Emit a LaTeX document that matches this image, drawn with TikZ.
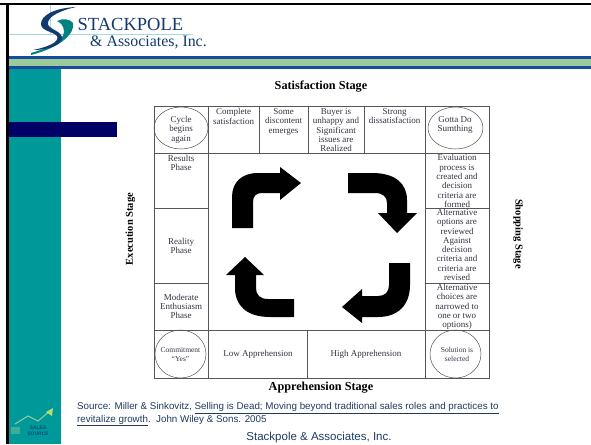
\documentclass[tikz,border=0pt]{standalone}
\usepackage{fontspec}
\setmainfont{Liberation Serif}
\setsansfont{Liberation Sans}
\usetikzlibrary{shapes.geometric}
\definecolor{tealbar}{HTML}{009999}
\definecolor{greenbar}{HTML}{99CC99}
\definecolor{bluebar}{HTML}{1A4A9C}
\definecolor{navybar}{HTML}{000066}
\definecolor{logonavy}{HTML}{123A6E}
\definecolor{gridc}{HTML}{555555}
\definecolor{inkc}{HTML}{333344}
\definecolor{sourcec}{HTML}{1F3A5F}
\tikzset{
  cell/.style={align=center,font=\fontsize{9}{9.3}\selectfont,text=inkc,inner sep=0pt},
  small/.style={align=center,font=\fontsize{7.5}{8}\selectfont,text=inkc,inner sep=0pt},
  stage/.style={font=\fontsize{12.2}{13}\bfseries\selectfont,text=black,inner sep=0pt},
  sidestage/.style={font=\fontsize{10.5}{12}\bfseries\selectfont,text=black,inner sep=0pt},
  ring/.style={draw=gridc,ellipse,line width=.5pt,minimum width=#1,inner sep=0pt},
  bigarrow/.style={fill=black,draw=none},
  rule/.style={draw=gridc,line width=.7pt},
  srcline/.style={anchor=base west,inner sep=0pt,font=\fontsize{9.8}{12}\sffamily\selectfont,text=sourcec},
}
\begin{document}
\begin{tikzpicture}[x=1pt,y=-1pt]
\useasboundingbox (0,0) rectangle (591,444);
\fill[white] (0,0) rectangle (591,444);
% slide furniture
\fill[tealbar] (9,67) rectangle (61,444);
\fill[greenbar] (7,58) rectangle (591,66);
\fill[bluebar] (7,56.5) rectangle (591,58.8);
\fill[bluebar] (7,66) rectangle (591,68.5);
\fill[navybar] (9,122) rectangle (117,137);
\fill[black] (0,3.5) rectangle (591,5.5);
\fill[black] (6,3.5) rectangle (9,444);
% logo
\draw[tealbar!35,line width=.5pt] (50,5) -- (50,34) (9,34) -- (193,34);
\fill[tealbar!85!black] (57,21) .. controls (63,18) and (70,19) .. (73,23) .. controls (75,33) and (62,47) .. (31,55) -- (31,53) .. controls (48,48) and (63,42) .. (64,32) .. controls (64,26) and (61,23) .. (57,21) -- cycle;
\fill[logonavy] (76,7) .. controls (55,8) and (41,15) .. (41,24) .. controls (41,31) and (52,31) .. (57,36) .. controls (60,42) and (48,47) .. (33,50) .. controls (50,50) and (63,44) .. (62,37) .. controls (60,30) and (47,29) .. (48,23) .. controls (48,16) and (62,10) .. (76,7) -- cycle;
\node[anchor=base west,inner sep=0pt,font=\fontsize{18.5}{18}\selectfont,text=logonavy] (brand) at (77.5,31) {STACKPOLE};
\node[anchor=base west,inner sep=0pt,font=\fontsize{15.9}{16}\selectfont,text=logonavy] (brand2) at (90,46.5) {\&\ Associates, Inc.};
% grid
\draw[rule] (154,106) rectangle (489,378);
\draw[rule] (154,153) -- (489,153) (154,330) -- (489,330);
\draw[rule] (208,106) -- (208,378) (425.5,106) -- (425.5,378);
\draw[rule] (259,106) -- (259,153) (308,106) -- (308,153) (364,106) -- (364,153) (307.5,330) -- (307.5,378);
\draw[rule] (154,208) -- (208,208) (154,283) -- (208,283);
\draw[rule] (425.5,208) -- (489,208) (425.5,283) -- (489,283);
% rings
\node[ring=54pt,minimum height=42pt] (cycle) at (181,128) {};
\node[ring=55pt,minimum height=42pt] (gotta) at (455.5,128) {};
\node[ring=51pt,minimum height=48pt] (commit) at (180.5,354) {};
\node[ring=51pt,minimum height=48pt] (solution) at (455.5,354) {};
% cell texts
\node[cell] (tcycle) at (181,129.5) {Cycle\\[.3pt]begins\\[.3pt]again};
\node[cell] (tgotta) at (455,125) {Gotta Do\\[.3pt]Sumthing};
\node[small] (tcommit) at (180.5,354.5) {Commitment\\[.5pt]``Yes''};
\node[small] (tsol) at (457,354.5) {Solution is\\[.5pt]selected};
\node[cell,anchor=north] (c1) at (233.5,108.5) {Complete\\satisfaction};
\node[cell,anchor=north] (c2) at (283.5,108.5) {Some\\discontent\\emerges};
\node[cell,anchor=north] (c3) at (336,108.5) {Buyer is\\unhappy and\\Significant\\issues are\\Realized};
\node[cell,anchor=north] (c4) at (394.5,108.5) {Strong\\dissatisfaction};
\node[cell,anchor=north] (r1) at (181,155) {Results\\Phase};
\node[cell] (r2) at (181,246) {Reality\\Phase};
\node[cell] (r3) at (181,306.5) {Moderate\\Enthusiasm\\Phase};
\node[cell,anchor=north] (e1) at (457,154.5) {Evaluation\\process is\\created and\\decision\\criteria are\\formed};
\node[cell,anchor=north] (e2) at (457,209) {Alternative\\options are\\reviewed\\Against\\decision\\criteria and\\criteria are\\revised};
\node[cell,anchor=north] (e3) at (457,284) {Alternative\\choices are\\narrowed to\\one or two\\options)};
\node[cell] (low) at (258,354) {Low Apprehension};
\node[cell] (high) at (366,354) {High Apprehension};
% stage titles
\node[stage] (sat) at (321,87) {Satisfaction Stage};
\node[stage] (app) at (321,388) {Apprehension Stage};
\node[sidestage,rotate=90] (exe) at (130.5,229) {Execution Stage};
\node[sidestage,rotate=-90] (shop) at (518,234) {Shopping Stage};
% arrows
\path[bigarrow] (232,228) -- (232,197) .. controls (232,182) and (242,173) .. (258,173) -- (280,173) -- (280,167) -- (301,183) -- (280,200) -- (280,193) -- (262,193) .. controls (256,193) and (253,196) .. (253,202) -- (253,228) -- cycle;
\path[bigarrow] (348,173) -- (372,173) .. controls (396,173) and (407,184) .. (407,200) -- (407,213) -- (417,213) -- (397,233) -- (378,213) -- (387,213) -- (387,203) .. controls (387,197) and (383,193) .. (375,193) -- (348,193) -- cycle;
\path[bigarrow] (410,263) -- (410,285) .. controls (410,305) and (398,317) .. (378,317) -- (362,317) -- (362,323) -- (342,307) -- (362,289) -- (362,296) -- (378,296) .. controls (385,296) and (389,292) .. (389,285) -- (389,263) -- cycle;
\path[bigarrow] (294,317) -- (270,317) .. controls (246,317) and (235,305) .. (235,288) -- (235,275) -- (226,275) -- (245,257) -- (264,275) -- (256,275) -- (256,288) .. controls (256,295) and (260,299) .. (268,299) -- (294,299) -- cycle;
% source
\node[srcline] (src1) at (77,409.5) {Source: Miller \& Sinkovitz, \underline{Selling is Dead; Moving beyond traditional sales roles and practices to}};
\node[srcline] (src2) at (77,422) {\underline{revitalize growth}.\ \ John Wiley \& Sons. 2005};
\node[font=\fontsize{11.5}{12}\sffamily\selectfont,text=sourcec,inner sep=0pt] (foot) at (319,437.5) {Stackpole \& Associates, Inc.};
% small logo
\draw[greenbar,line width=1pt] (15,424) -- (28,416) -- (38,421) -- (50,411);
\fill[greenbar!70!yellow] (53,408) -- (52,416) -- (46,412) -- cycle;
\node[font=\fontsize{5}{5.5}\sffamily\bfseries\selectfont,text=tealbar!50!navybar,align=center,inner sep=0pt] (ss) at (38,431) {SALES\\SOURCE};
\fill[tealbar!60!greenbar] (11,427) rectangle (20,434);
\end{tikzpicture}
\end{document}
